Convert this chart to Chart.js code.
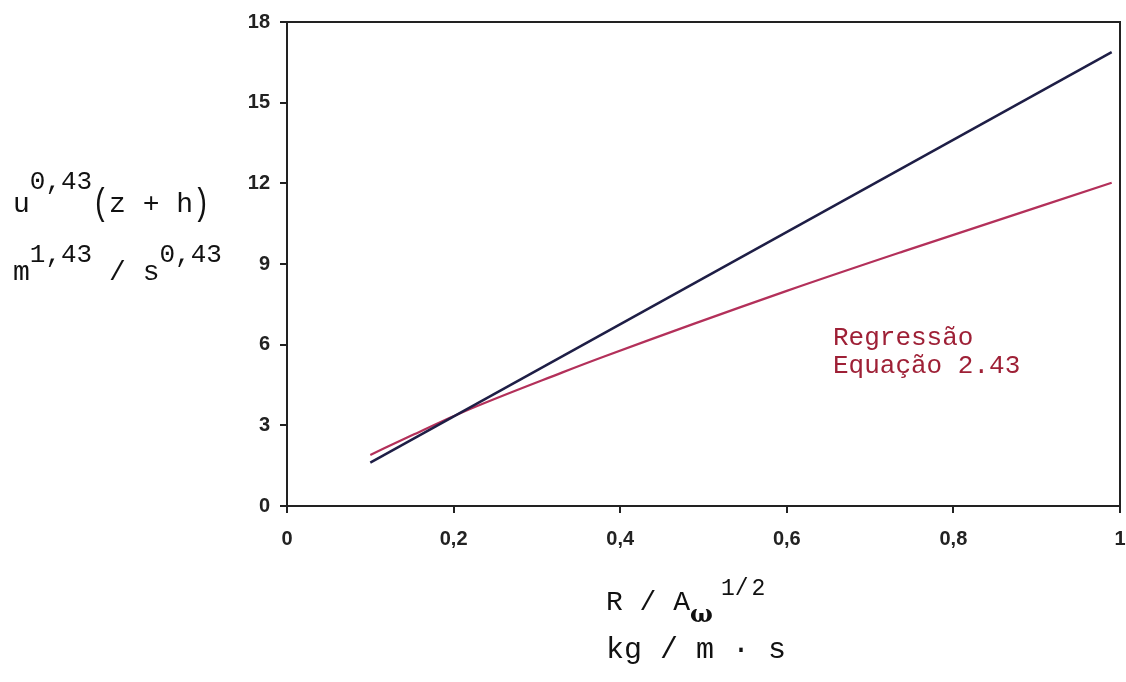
<!DOCTYPE html>
<html>
<head>
<meta charset="utf-8">
<script src="https://cdn.jsdelivr.net/npm/chart.js@4"></script>
<style>
body { margin: 0; background: #fff; }
#wrap { position: relative; width: 1126px; height: 682px; }
#chart { position: absolute; left: 0; top: 0; }
.lbl { position: absolute; white-space: pre; font-family: "Liberation Mono", "Courier New", monospace; color: #111; font-size: 28px; line-height: 28px; }
.sup { position: relative; font-size: 26px; }
.par { display: inline-block; transform: scale(1, 1.35); }
.red { color: #9e2036; font-size: 26px; line-height: 26px; }
</style>
</head>
<body>
<div id="wrap">
  <canvas id="chart" width="1126" height="682"></canvas>

  <div class="lbl" style="left:13px;top:191px;">u<span class="sup" style="top:-23px;">0,43</span><span class="par">(</span>z + h<span class="par">)</span></div>
  <div class="lbl" style="left:13px;top:259px;">m<span class="sup" style="top:-18px;">1,43</span> / s<span class="sup" style="top:-18px;">0,43</span></div>

  <div class="lbl" style="left:606px;top:588px;">R / A<span style="position:relative;top:12px;font-family:'DejaVu Serif',serif;font-weight:bold;font-size:24px;">ω</span><span class="sup" style="top:-15px;font-size:23px;margin-left:8px;">1/<span style="margin-left:3px;">2</span></span></div>
  <div class="lbl" style="left:606px;top:635px;font-size:30px;line-height:30px;">kg / m · s</div>

  <div class="lbl red" style="left:833px;top:325px;">Regressão</div>
  <div class="lbl red" style="left:833px;top:353px;">Equação 2.43</div>
</div>

<script>
// valores
const xTicks = [0, 0.2, 0.4, 0.6, 0.8, 1];
const xTickLabels = ["0", "0,2", "0,4", "0,6", "0,8", "1"];
const yTicks = [0, 3, 6, 9, 12, 15, 18];
const yTickLabels = ["0", "3", "6", "9", "12", "15", "18"];

// linha azul escura (reta)
const xModelo = [0.1, 0.99];
const yModelo = [1.61, 16.88];

// Regressão - Equação 2.43 (curva vermelha, levemente côncava)
const xRegressao = [0.1, 0.15, 0.21, 0.33, 0.38, 0.6, 0.74, 0.99];
const yRegressao = [1.9, 2.63, 3.48, 4.96, 5.55, 8.0, 9.47, 12.02];

const toPoints = (xs, ys) => xs.map((x, i) => ({ x: x, y: ys[i] }));

// moldura de cima e da direita
const framePlugin = {
    id: "frame",
    afterDraw(chart) {
        const { ctx, chartArea: a } = chart;
        ctx.save();
        ctx.strokeStyle = "#222";
        ctx.lineWidth = 2;
        ctx.beginPath();
        ctx.moveTo(a.left, a.top);
        ctx.lineTo(a.right, a.top);
        ctx.lineTo(a.right, a.bottom);
        ctx.stroke();
        ctx.restore();
    }
};

const tickFont = { family: "'Liberation Sans', Arial, sans-serif", size: 20, weight: "bold" };

new Chart(document.getElementById("chart").getContext("2d"), {
    type: "line",
    data: {
        datasets: [
            { data: toPoints(xModelo, yModelo), borderColor: "#1e1e46", borderWidth: 2.5, pointRadius: 0, tension: 0 },
            { data: toPoints(xRegressao, yRegressao), borderColor: "#b3305a", borderWidth: 2.2, pointRadius: 0, cubicInterpolationMode: "monotone" }
        ]
    },
    options: {
        responsive: false,
        animation: false,
        layout: { padding: { top: 22, right: 6, left: 0, bottom: 0 } },
        plugins: { legend: { display: false }, tooltip: { enabled: false } },
        scales: {
            x: {
                type: "linear",
                min: 0,
                max: 1,
                afterFit: s => { s.height = 176; s.paddingRight = 0; s.paddingLeft = 0; },
                afterBuildTicks: s => { s.ticks = xTicks.map(v => ({ value: v })); },
                grid: { drawOnChartArea: false, drawTicks: true, tickLength: 7, color: "#222", lineWidth: 2 },
                border: { color: "#222", width: 2 },
                ticks: { font: tickFont, color: "#222", padding: 14, maxRotation: 0, callback: (v, i) => xTickLabels[i] }
            },
            y: {
                type: "linear",
                min: 0,
                max: 18,
                afterFit: s => { s.width = 287; },
                afterBuildTicks: s => { s.ticks = yTicks.map(v => ({ value: v })); },
                grid: { drawOnChartArea: false, drawTicks: true, tickLength: 7, color: "#222", lineWidth: 2 },
                border: { color: "#222", width: 2 },
                ticks: { font: tickFont, color: "#222", padding: 10, callback: (v, i) => yTickLabels[i] }
            }
        }
    },
    plugins: [framePlugin]
});
</script>
</body>
</html>
